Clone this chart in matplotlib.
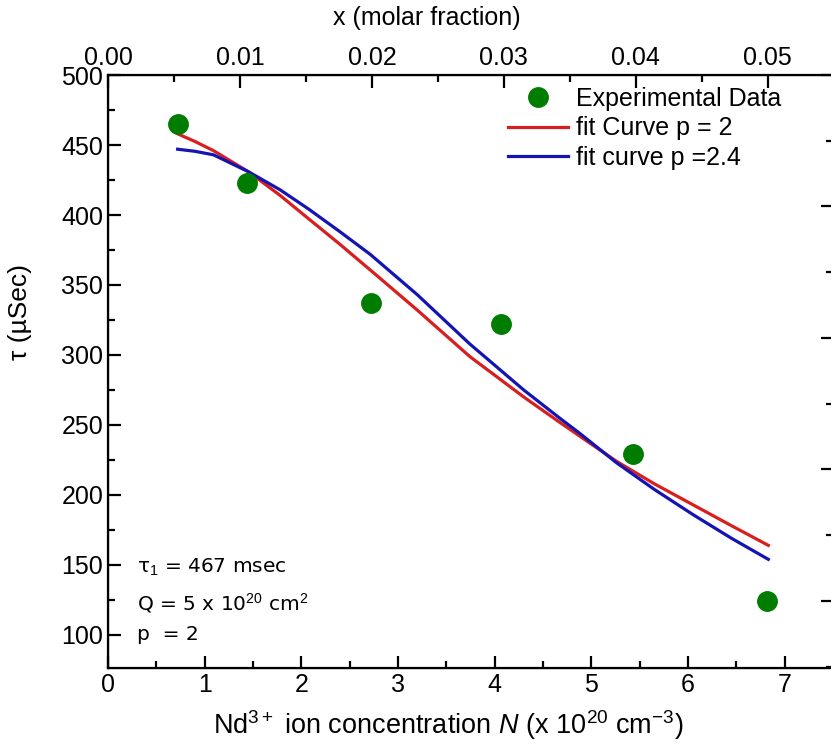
import numpy as np
import matplotlib
matplotlib.use("Agg")
import matplotlib.pyplot as plt
from matplotlib.ticker import MultipleLocator, FormatStrFormatter

plt.rcParams['font.family'] = ['Liberation Sans', 'DejaVu Sans']
plt.rcParams['mathtext.fontset'] = 'custom'
plt.rcParams['mathtext.rm'] = 'Liberation Sans'
plt.rcParams['mathtext.it'] = 'Liberation Sans:italic'

# datos experimentales
n_exp = [0.72, 1.44, 2.72, 4.07, 5.43, 6.82]
tau_exp = [465, 423, 337, 322, 229, 124]

# curvas de ajuste
n_fit_p2 = [0.72, 0.90, 1.09, 1.45, 1.78, 2.08, 2.40, 2.81, 3.20, 3.74, 4.30, 4.67, 4.88, 5.26, 5.65, 6.05, 6.45, 6.83]
tau_fit_p2 = [458, 452.5, 446, 431, 414, 397, 379, 355, 332, 299, 270, 252, 242, 224, 208, 193, 178, 164]
n_fit_p24 = [0.72, 0.90, 1.09, 1.45, 1.78, 2.08, 2.40, 2.71, 3.20, 3.74, 4.30, 4.67, 4.88, 5.26, 5.65, 6.05, 6.45, 6.83]
tau_fit_p24 = [447, 445.5, 443, 431, 418, 404, 388, 372, 343, 308, 275, 255, 244, 223, 204, 186, 169, 154]

top_ticks = [0.00, 0.01, 0.02, 0.03, 0.04, 0.05]

fig = plt.figure(figsize=(8.31, 7.48), dpi=100)
ax = fig.add_axes([0.130, 0.107, 0.8725, 0.7927])

ax.plot(n_exp, tau_exp, 'o', color='#007d00', markersize=14, label='Experimental Data', zorder=3)
ax.plot(n_fit_p2, tau_fit_p2, '-', color='#d81e1e', lw=2.3, label='fit Curve p = 2')
ax.plot(n_fit_p24, tau_fit_p24, '-', color='#1414b4', lw=2.3, label='fit curve p =2.4')

ax.set_xlim(0, 7.5)
ax.set_ylim(76.4, 500)
ax.xaxis.set_major_locator(MultipleLocator(1))
ax.xaxis.set_minor_locator(MultipleLocator(0.5))
ax.yaxis.set_major_locator(MultipleLocator(50))
ax.yaxis.set_minor_locator(MultipleLocator(25))
ax.tick_params(which='both', direction='in', width=1.6, labelsize=18, top=False, right=False)
ax.tick_params(which='major', length=9)
ax.tick_params(which='minor', length=5)
for s in ax.spines.values():
    s.set_linewidth(1.6)

ax.set_xlabel(r'Nd$^{3+}$ ion concentration $N$ (x 10$^{20}$ cm$^{-3}$)', fontsize=19.5)
ax.xaxis.set_label_coords(0.47, -0.068)
ax.set_ylabel('τ (µSec)', fontsize=19)
ax.yaxis.set_label_coords(-0.105, 0.60)

# eje superior
ax_top = ax.twiny()
ax_top.set_xlim(0, 7.5 * 0.01 / 1.365)
ax_top.set_xticks(top_ticks)
ax_top.xaxis.set_minor_locator(MultipleLocator(0.005))
ax_top.xaxis.set_major_formatter(FormatStrFormatter('%.2f'))
ax_top.tick_params(which='both', direction='in', width=1.6, labelsize=18)
ax_top.tick_params(which='major', length=9)
ax_top.tick_params(which='minor', length=5)
ax_top.set_xlabel('x (molar fraction)', fontsize=18)
ax_top.xaxis.set_label_coords(0.439, 1.085)

# eje derecho (sin etiquetas, queda fuera de la imagen)
ax_r = ax.twinx()
ax_r.set_ylim(0.49, 5.0)
ax_r.yaxis.set_major_locator(MultipleLocator(1))
ax_r.yaxis.set_minor_locator(MultipleLocator(0.5))
ax_r.tick_params(which='both', direction='in', width=1.6, labelright=False)
ax_r.tick_params(which='major', length=9)
ax_r.tick_params(which='minor', length=5)

leg = ax.legend(loc='upper left', bbox_to_anchor=(0.552, 0.980), frameon=False, fontsize=18,
                handlelength=2.4, handletextpad=0.3, labelspacing=0.22, borderpad=0, borderaxespad=0)

ann = dict(transform=ax.transAxes, fontsize=14.5, family='DejaVu Sans', va='center', ha='left')
ax.text(0.04, 0.170, r'τ$_1$ = 467 msec', **ann)
ax.text(0.04, 0.110, r'Q = 5 x 10$^{20}$ cm$^{2}$', **ann)
ax.text(0.04, 0.057, 'p  = 2', **ann)

fig.savefig('out.png', dpi=100)
